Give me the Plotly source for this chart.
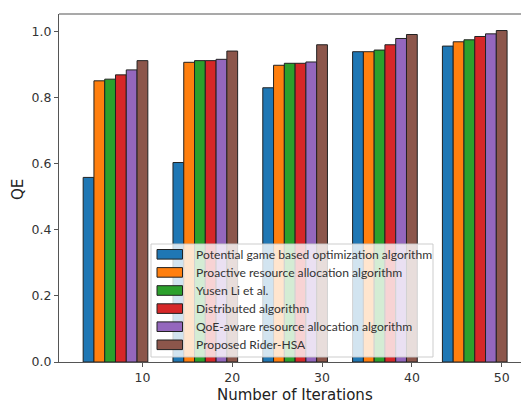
import plotly.graph_objects as go

iterations = [10, 20, 30, 40, 50]
series_names = [
    "Potential game based optimization algorithm",
    "Proactive resource allocation algorithm",
    "Yusen Li et al.",
    "Distributed algorithm",
    "QoE-aware resource allocation algorithm",
    "Proposed Rider-HSA",
]
potential_game = [0.558, 0.603, 0.829, 0.938, 0.955]
proactive = [0.850, 0.906, 0.897, 0.938, 0.968]
yusen_li = [0.855, 0.911, 0.903, 0.943, 0.974]
distributed = [0.868, 0.911, 0.903, 0.959, 0.984]
qoe_aware = [0.883, 0.915, 0.907, 0.978, 0.992]
rider_hsa = [0.911, 0.940, 0.959, 0.990, 1.002]
series_values = [potential_game, proactive, yusen_li, distributed, qoe_aware, rider_hsa]
colors = ["#1f77b4", "#ff7f0e", "#2ca02c", "#d62728", "#9467bd", "#8c564b"]
y_ticks = [0.0, 0.2, 0.4, 0.6, 0.8, 1.0]
y_tick_labels = ["0.0", "0.2", "0.4", "0.6", "0.8", "1.0"]

W, H = 521, 403
ML, MT, MB, MR = 59, 14, 41, 0
bar_w = 1.2
x_range = [0.71, 52.15]
y_range = [0, 1.052]

fig = go.Figure()
n = len(series_names)
for i, (name, vals, c) in enumerate(zip(series_names, series_values, colors)):
    fig.add_trace(go.Bar(
        x=iterations, y=vals, name=name, width=bar_w,
        offset=(i - n + 0.5) * bar_w,
        marker=dict(color=c, line=dict(color="#222222", width=1)),
        showlegend=False,
    ))

plot_w = W - ML - MR
plot_h = H - MT - MB

def px2x(px):
    return x_range[0] + (px - ML) / plot_w * (x_range[1] - x_range[0])

def py2y(py):
    return y_range[0] + (H - MB - py) / plot_h * (y_range[1] - y_range[0])

shapes = []
annotations = []
# top spine
shapes.append(dict(type="line", xref="paper", yref="paper", x0=0, x1=1, y0=1, y1=1,
                   line=dict(color="#555555", width=1.2)))
# legend box
bx0, bx1, by0, by1 = 151, 433, 244, 357
shapes.append(dict(type="rect", xref="x", yref="y",
                   x0=px2x(bx0), x1=px2x(bx1), y0=py2y(by1), y1=py2y(by0),
                   fillcolor="rgba(255,255,255,0.8)", line=dict(color="rgba(200,200,200,0.9)", width=1),
                   layer="above"))
for k, (name, c) in enumerate(zip(series_names, colors)):
    cy = 254.3 + k * 18.1
    shapes.append(dict(type="rect", xref="x", yref="y",
                       x0=px2x(157), x1=px2x(182.5), y0=py2y(cy + 4.8), y1=py2y(cy - 4.8),
                       fillcolor=c, line=dict(color="#222222", width=1), layer="above"))
    annotations.append(dict(text=name, xref="x", yref="y", x=px2x(193.5), y=py2y(cy),
                            xanchor="left", yanchor="middle", showarrow=False,
                            font=dict(family="Lato", size=12.1, color="#333333")))

annotations.append(dict(text="Number of Iterations", xref="paper", yref="paper",
                        x=(294.5 - ML) / plot_w, y=(H - MB - 395) / plot_h,
                        xanchor="center", yanchor="middle", showarrow=False,
                        font=dict(family="DejaVu Sans", size=15, color="#222222")))
annotations.append(dict(text="QE", xref="paper", yref="paper",
                        x=(18 - ML) / plot_w, y=(H - MB - 190) / plot_h, textangle=-90,
                        xanchor="center", yanchor="middle", showarrow=False,
                        font=dict(family="DejaVu Sans", size=15, color="#222222")))

fig.update_layout(
    width=W, height=H,
    margin=dict(l=ML, r=MR, t=MT, b=MB),
    paper_bgcolor="white", plot_bgcolor="white",
    barmode="overlay",
    shapes=shapes, annotations=annotations,
    font=dict(family="DejaVu Sans", size=12.5, color="#333333"),
)
fig.update_xaxes(range=x_range, tickvals=iterations, ticktext=[str(v) for v in iterations],
                 showline=True, linecolor="#555555", linewidth=1.2, ticks="outside",
                 ticklen=4, tickcolor="#555555", showgrid=False, zeroline=False)
fig.update_yaxes(range=y_range, tickvals=y_ticks, ticktext=y_tick_labels,
                 showline=True, linecolor="#555555", linewidth=1.2, ticks="outside",
                 ticklen=4, tickcolor="#555555", showgrid=False, zeroline=False)

fig.write_html("out.html")
